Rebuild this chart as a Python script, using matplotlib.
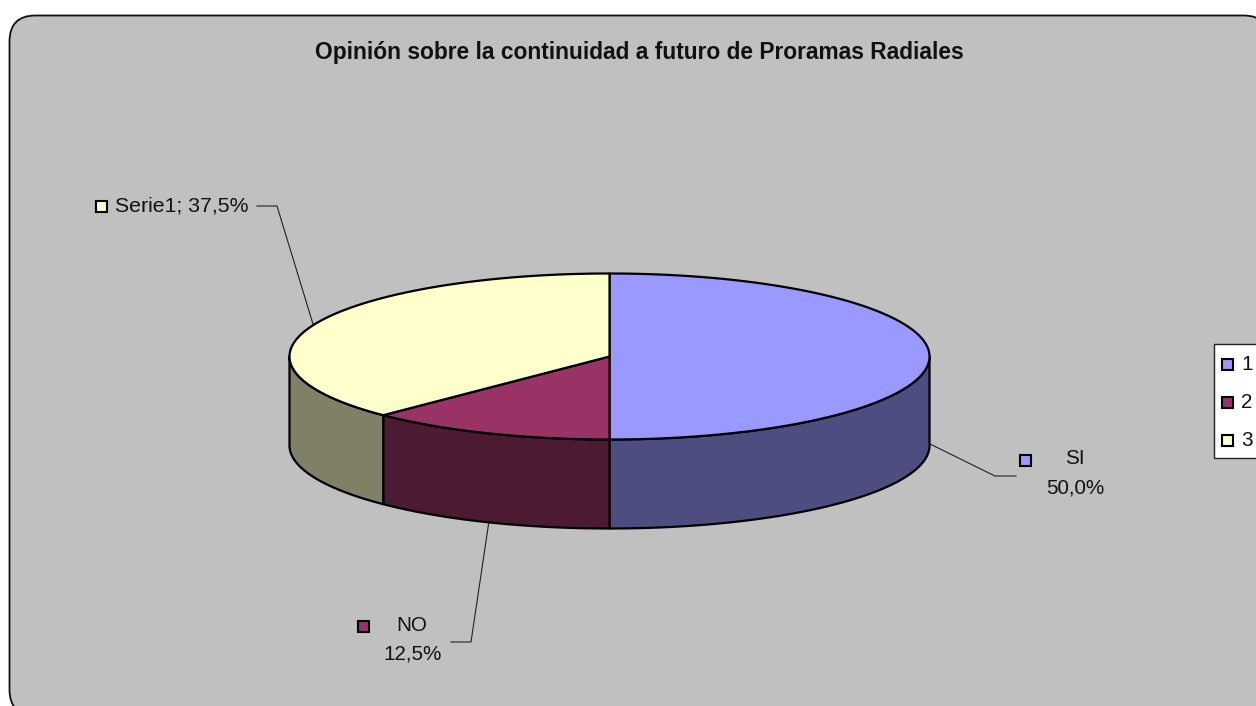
import numpy as np
import matplotlib
matplotlib.use("Agg")
import matplotlib.pyplot as plt
from matplotlib.patches import FancyBboxPatch, Rectangle

plt.rcParams['font.family'] = ['Liberation Sans', 'DejaVu Sans']

# Data
categories = ["1", "2", "3"]
values = [50.0, 12.5, 37.5]
label_names = ["SI", "NO", "Serie1"]
label_values = ["50,0%", "12,5%", "37,5%"]
title = "Opinión sobre la continuidad a futuro de Proramas Radiales"

# Styles
top_colors = ["#9999FF", "#993366", "#FFFFCC"]
side_colors = ["#4D4D80", "#4D1A33", "#808066"]
BG = "#C0C0C0"

# Layout (pixels)
W, H = 1256, 706
CX, CY, RX, RY, DEPTH = 609.5, 356.5, 320, 83, 89

fig = plt.figure(figsize=(W / 100, H / 100), dpi=100, facecolor="white")
ax = fig.add_axes([0, 0, 1, 1])
ax.set_xlim(0, W)
ax.set_ylim(H, 0)
ax.axis("off")

# Chart area
ax.add_patch(FancyBboxPatch((9.5 + 26, 15.5 + 26), 1260 - 52, 700 - 52,
                            boxstyle="round,pad=26,rounding_size=26",
                            fc=BG, ec="#111111", lw=1.3, zorder=0))


def rim(t):
    return CX + RX * np.sin(t), CY - RY * np.cos(t)


edges = np.radians(np.concatenate([[0], np.cumsum(values)]) / sum(values) * 360)

# Front walls (only the lower half of the ellipse is visible)
for a, b, col in zip(edges[:-1], edges[1:], side_colors):
    lo, hi = max(a, np.pi / 2), min(b, 3 * np.pi / 2)
    if lo >= hi:
        continue
    t = np.linspace(lo, hi, 200)
    x, y = rim(t)
    ax.fill(np.r_[x, x[::-1]], np.r_[y, (y + DEPTH)[::-1]],
            fc=col, ec="black", lw=1.6, joinstyle="round", zorder=2)

# Top faces
for a, b, col in zip(edges[:-1], edges[1:], top_colors):
    t = np.linspace(a, b, 300)
    x, y = rim(t)
    ax.fill(np.r_[CX, x], np.r_[CY, y],
            fc=col, ec="black", lw=1.6, joinstyle="round", zorder=3)

# Leader lines
for xs, ys in [([930, 995, 1016], [444, 476, 476]),
               ([489, 471, 451], [521, 642, 642]),
               ([313, 277, 257], [324, 206, 206])]:
    ax.plot(xs, ys, color="#222222", lw=0.8, zorder=1)


def swatch(cx, cy, col):
    ax.add_patch(Rectangle((cx - 5.5, cy - 5.5), 11, 11, fc=col, ec="black",
                           lw=1.5, zorder=5))


FS = 14.9
INK = "#111111"
# Data labels
swatch(1025.5, 460, top_colors[0])
ax.text(1075, 459, label_names[0], ha="center", va="center", fontsize=FS, color=INK)
ax.text(1075, 488, label_values[0], ha="center", va="center", fontsize=FS, color=INK)
swatch(363.5, 626, top_colors[1])
ax.text(412, 625.5, label_names[1], ha="center", va="center", fontsize=FS, color=INK)
ax.text(413, 654, label_values[1], ha="center", va="center", fontsize=FS, color=INK)
swatch(101, 206, top_colors[2])
ax.text(115, 206, f"{label_names[2]}; {label_values[2]}", ha="left", va="center",
        fontsize=FS * 1.03, color=INK)

# Legend
ax.add_patch(Rectangle((1213.5, 344), 60, 113.5, fc="white", ec="#222222", lw=1.0, zorder=4))
for cat, col, yy in zip(categories, top_colors, [364.5, 402.5, 440.5]):
    swatch(1227.5, yy, col)
    ax.text(1241.5, yy - 0.5, cat, ha="left", va="center", fontsize=FS, color=INK, zorder=5)

# Title
ax.text(639, 52, title, ha="center", va="center", fontsize=16.35, fontweight="bold",
        color=INK)

fig.savefig("out.png", dpi=100, facecolor="white")
